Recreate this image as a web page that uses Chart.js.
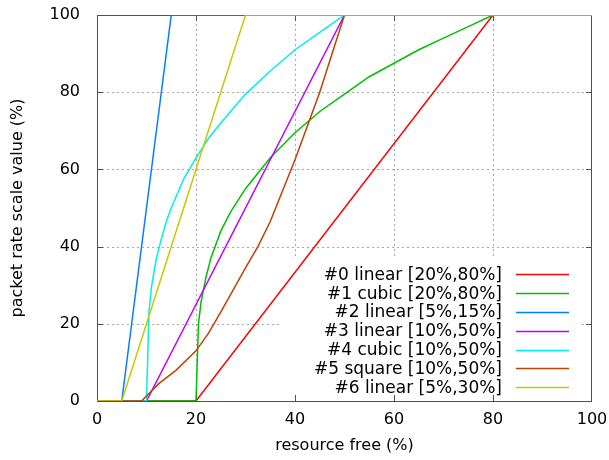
<!DOCTYPE html>
<html>
<head>
<meta charset="utf-8">
<script src="https://cdn.jsdelivr.net/npm/chart.js@4"></script>
<style>
  html, body { margin: 0; padding: 0; background: #fff; }
  #wrap { width: 609px; height: 460px; }
</style>
</head>
<body>
<div id="wrap"><canvas id="scaleChart" width="609" height="460"></canvas></div>
<script>
// tick values for both axes (percent)
const tickValues = [0, 20, 40, 60, 80, 100];

// series labels and colours (gnuplot default palette)
const seriesLabels = [
  '#0 linear [20%,80%]',
  '#1 cubic [20%,80%]',
  '#2 linear [5%,15%]',
  '#3 linear [10%,50%]',
  '#4 cubic [10%,50%]',
  '#5 square [10%,50%]',
  '#6 linear [5%,30%]'
];
const seriesColors = ['#ff0000', '#00c000', '#0080ff', '#c000ff', '#00eeee', '#c04000', '#c8c800'];

// resource free (%) -> packet rate scale value (%)
const s0x = [0, 20, 80, 100];
const s0y = [0, 0, 100, 100];

const s1x = [0, 20, 20.5, 21, 22, 23, 24, 25, 27, 30, 35, 40, 45, 50, 55, 60, 65, 70, 75, 80, 100];
const s1y = [0, 0, 20, 25.5, 32, 37, 40.5, 44, 49, 55, 63, 69.5, 75, 79.5, 84, 87.5, 91, 94, 97, 100, 100];

const s2x = [0, 5, 15, 100];
const s2y = [0, 0, 100, 100];

const s3x = [0, 10, 50, 100];
const s3y = [0, 0, 100, 100];

const s4x = [0, 10, 10.5, 11, 12, 13, 14, 15, 17.5, 20, 22.5, 25, 30, 35, 40, 45, 50, 100];
const s4y = [0, 0, 23, 29.5, 37, 42, 46.5, 50, 57.5, 63, 68, 72, 79.5, 85.5, 91, 95.5, 100, 100];

const s5x = [0, 9, 12.5, 16, 20, 22.5, 25, 30, 32.5, 35, 40, 45, 47.5, 50, 100];
const s5y = [0, 0, 4.5, 8, 13, 17.5, 23, 34.5, 40, 46.5, 62.5, 80, 90, 100, 100];

const s6x = [0, 5, 30, 100];
const s6y = [0, 0, 100, 100];

const seriesX = [s0x, s1x, s2x, s3x, s4x, s5x, s6x];
const seriesY = [s0y, s1y, s2y, s3y, s4y, s5y, s6y];

const FONT = '"DejaVu Sans", Verdana, sans-serif';

// grid (hidden behind the key box), border and inward ticks, like gnuplot
const framePlugin = {
  id: 'frame',
  beforeDatasetsDraw(chart) {
    const { ctx, chartArea: a, scales: { x, y } } = chart;
    const keyLeft = a.right - 310, keyTop = a.bottom - 144, keyRight = a.right - 13;

    ctx.save();
    ctx.beginPath();
    ctx.rect(a.left, a.top, a.right - a.left, a.bottom - a.top);
    ctx.rect(keyLeft, keyTop, keyRight - keyLeft, a.bottom - keyTop);
    ctx.clip('evenodd');
    ctx.strokeStyle = '#a8a8a8';
    ctx.lineWidth = 1;
    ctx.setLineDash([2, 3]);
    tickValues.slice(1, -1).forEach(v => {
      const px = Math.round(x.getPixelForValue(v)) + 0.5;
      ctx.beginPath(); ctx.moveTo(px, a.bottom); ctx.lineTo(px, a.top); ctx.stroke();
      const py = Math.round(y.getPixelForValue(v)) + 0.5;
      ctx.beginPath(); ctx.moveTo(a.left, py); ctx.lineTo(a.right, py); ctx.stroke();
    });
    ctx.restore();

    ctx.save();
    ctx.strokeStyle = '#505050';
    ctx.lineWidth = 1;
    ctx.strokeRect(a.left + 0.5, a.top + 0.5, a.right - a.left - 1, a.bottom - a.top);
    const tl = 6;
    tickValues.slice(1, -1).forEach(v => {
      const px = Math.round(x.getPixelForValue(v)) + 0.5;
      ctx.beginPath();
      ctx.moveTo(px, a.bottom); ctx.lineTo(px, a.bottom - tl);
      ctx.moveTo(px, a.top); ctx.lineTo(px, a.top + tl);
      ctx.stroke();
      const py = Math.round(y.getPixelForValue(v)) + 0.5;
      ctx.beginPath();
      ctx.moveTo(a.left, py); ctx.lineTo(a.left + tl, py);
      ctx.moveTo(a.right, py); ctx.lineTo(a.right - tl, py);
      ctx.stroke();
    });
    ctx.restore();
  },
  afterDatasetsDraw(chart) {
    // key: right-aligned text with line sample on its right
    const { ctx, chartArea: a } = chart;
    ctx.save();
    ctx.font = '17px ' + FONT;
    ctx.fillStyle = '#000';
    ctx.textAlign = 'right';
    ctx.textBaseline = 'middle';
    chart.data.datasets.forEach((ds, i) => {
      const rowY = a.bottom - 126.7 + i * 18.8;
      ctx.fillText(ds.label, a.right - 90, rowY + 1);
      ctx.strokeStyle = ds.borderColor;
      ctx.lineWidth = ds.borderWidth;
      ctx.beginPath();
      ctx.moveTo(a.right - 76, Math.round(rowY) + 0.5);
      ctx.lineTo(a.right - 23, Math.round(rowY) + 0.5);
      ctx.stroke();
    });
    ctx.restore();
  }
};

const datasets = seriesLabels.map((label, i) => ({
  label: label,
  data: seriesX[i].map((xv, j) => ({ x: xv, y: seriesY[i][j] })),
  borderColor: seriesColors[i],
  backgroundColor: seriesColors[i],
  borderWidth: 1.5,
  showLine: true,
  pointRadius: 0,
  tension: 0,
  order: seriesLabels.length - i
}));

// fixed axis box sizes, no extra label overhang padding
function fitX(s) {
  s.height = 59;
  s.paddingLeft = 0; s.paddingRight = 0; s.paddingTop = 0; s.paddingBottom = 0;
}
function fitY(s) {
  s.width = 97;
  s.paddingLeft = 0; s.paddingRight = 0; s.paddingTop = 0; s.paddingBottom = 0;
}

const ctx = document.getElementById('scaleChart').getContext('2d');
new Chart(ctx, {
  type: 'scatter',
  data: { datasets: datasets },
  options: {
    responsive: false,
    animation: false,
    layout: { padding: { top: 15, right: 17, left: 0, bottom: 0 } },
    plugins: {
      legend: { display: false },
      tooltip: { enabled: false }
    },
    scales: {
      x: {
        type: 'linear',
        min: 0,
        max: 100,
        afterBuildTicks: s => { s.ticks = tickValues.map(v => ({ value: v })); },
        afterFit: fitX,
        grid: { display: false, drawTicks: false },
        border: { display: false },
        ticks: { color: '#000', font: { family: FONT, size: 16 }, padding: 9, maxRotation: 0 },
        title: {
          display: true,
          text: 'resource free (%)',
          color: '#000',
          font: { family: FONT, size: 16 },
          padding: { top: 0, bottom: 5 }
        }
      },
      y: {
        type: 'linear',
        min: 0,
        max: 100,
        afterBuildTicks: s => { s.ticks = tickValues.map(v => ({ value: v })); },
        afterFit: fitY,
        grid: { display: false, drawTicks: false },
        border: { display: false },
        ticks: { color: '#000', font: { family: FONT, size: 16 }, padding: 17 },
        title: {
          display: true,
          text: 'packet rate scale value (%)',
          color: '#000',
          font: { family: FONT, size: 16 },
          padding: { top: 8, bottom: 0 }
        }
      }
    }
  },
  plugins: [framePlugin]
});
</script>
</body>
</html>
